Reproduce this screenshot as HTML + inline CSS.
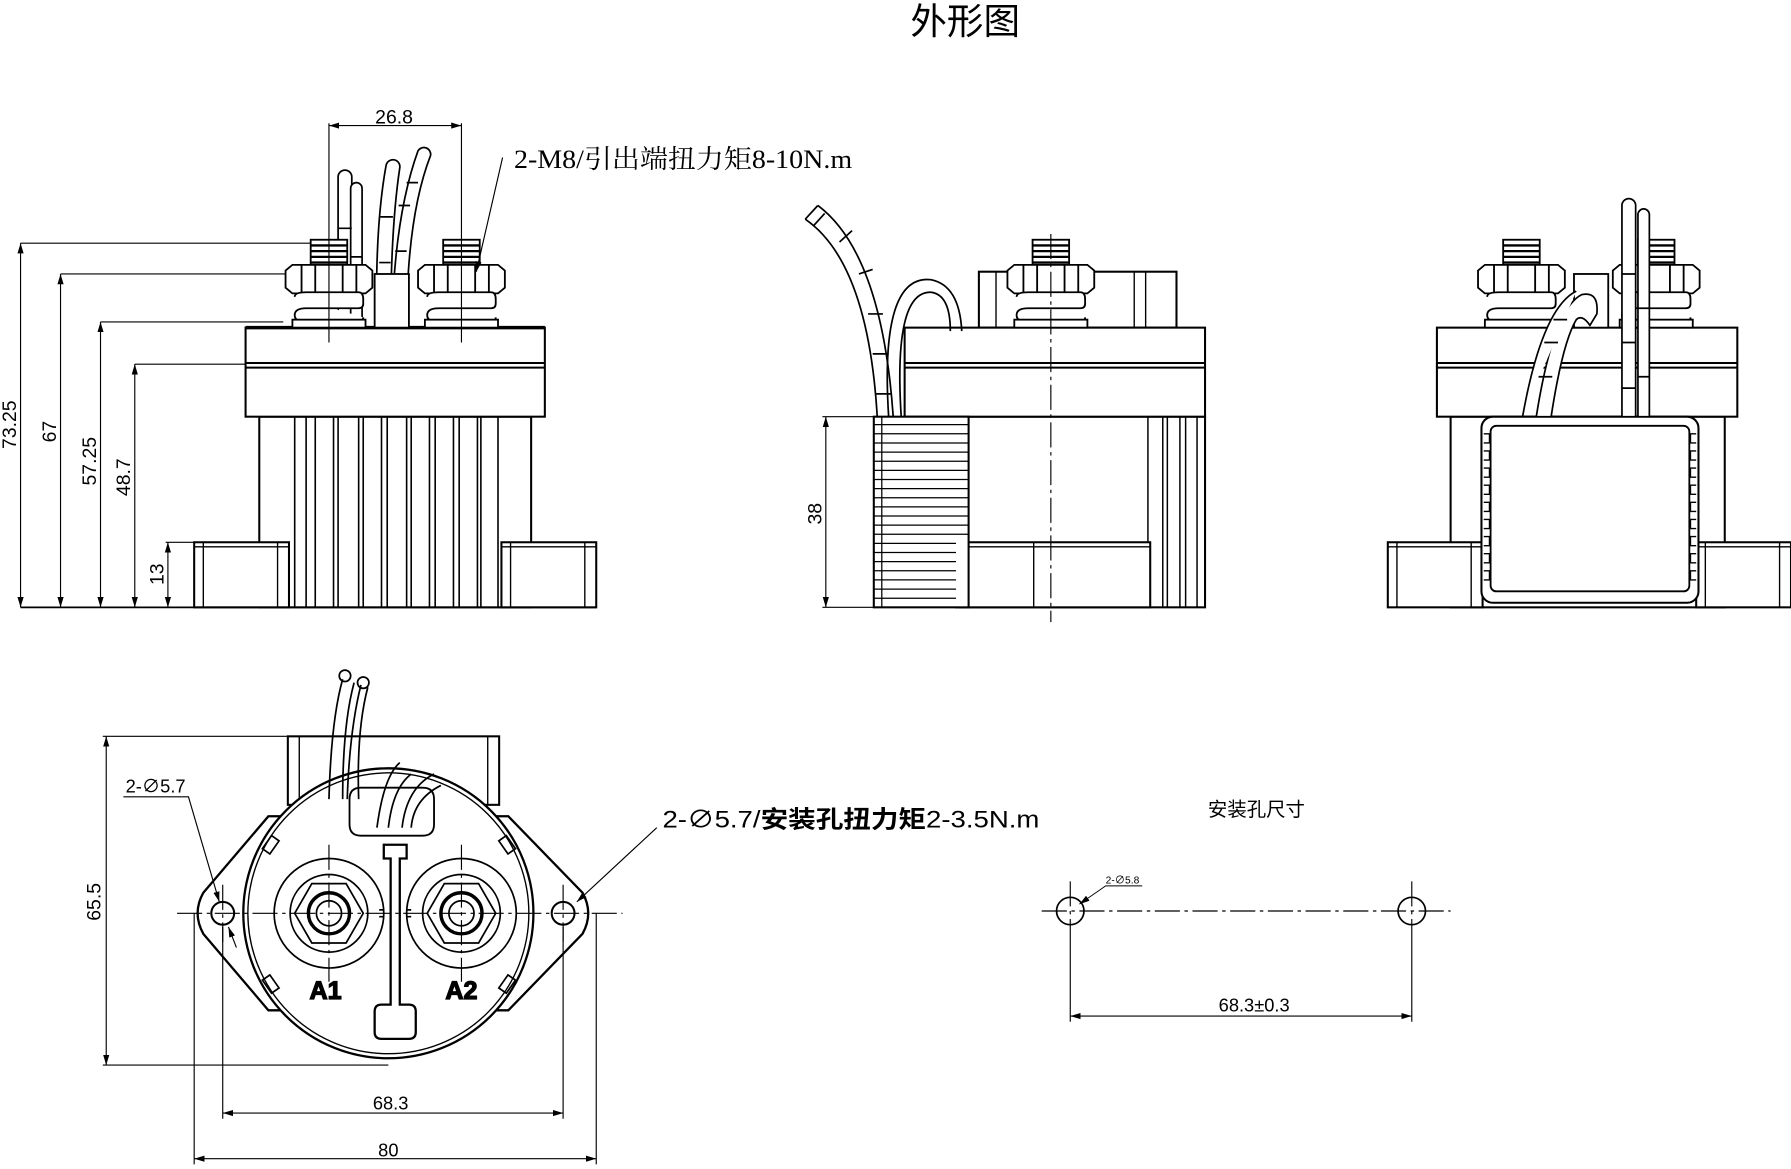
<!DOCTYPE html>
<html><head><meta charset="utf-8"><style>
html,body{margin:0;padding:0;background:#fff;}
svg{display:block;}
text{font-family:"Liberation Sans","Noto Sans CJK SC",sans-serif;fill:#000;}
.s{font-family:"Liberation Serif","Noto Serif CJK SC","Noto Sans CJK SC",serif;}
</style></head><body>
<svg width="1791" height="1169" viewBox="0 0 1568 1024" preserveAspectRatio="none" xmlns="http://www.w3.org/2000/svg">
<defs>
<marker id="a" viewBox="0 0 10 10" refX="10" refY="5" markerWidth="9" markerHeight="9" orient="auto-start-reverse" markerUnits="userSpaceOnUse"><path d="M0,2 L10,5 L0,8 z" fill="#000"/></marker>
<g id="term" fill="#fff" stroke="#000" stroke-width="1.6">
<rect x="-16" y="210" width="32" height="24"/>
<path d="M-16,215 h32 M-16,220 h32 M-16,225 h32 M-16,230 h32" stroke-width="2"/>
<polygon points="-38,237 -32,232 32,232 38,237 38,252 32,257 -32,257 -38,252"/>
<path d="M-24,232 v25 M24,232 v25 M-12,232 v25 M12,232 v25"/>
<path d="M-30,260 q0,-4 10,-4 h46 q4,0 4,6 v4 q0,4 -4,4 h-46 q-10,0 -10,6 q0,6 10,6 h46 q4,0 4,-4" />
<rect x="-32" y="280" width="64" height="7"/>
</g>
<g id="base" fill="#fff" stroke="#000" stroke-width="1.8">
<rect x="0" y="475" width="83" height="57"/><path d="M0,479 h83 M8,475 v57 M73,475 v57" stroke-width="1.2"/>
</g>
</defs>

<text x="845" y="30" font-size="32" text-anchor="middle">外形图</text>

<!-- ===== VIEW 1 FRONT ===== -->
<g fill="none" stroke="#000" stroke-width="1.8">
<rect x="227" y="365" width="238" height="167"/>
<path d="M258,365v167 M268,365v167 M276,365v167 M292,365v167 M296,365v167 M314,365v167 M318,365v167 M334,365v167 M339,365v167 M356,365v167 M360,365v167 M376,365v167 M381,365v167 M397,365v167 M402,365v167 M418,365v167 M421,365v167 M436,365v167" stroke-width="1.4"/>
<rect x="215" y="287" width="262" height="78" fill="#fff"/>
<path d="M215,318h262 M215,322h262"/>
<path d="M215,287h262" stroke-width="3"/>
</g>
<use href="#base" x="170"/><use href="#base" x="439"/>
<path d="M18,532 H522" stroke="#000" stroke-width="1.5"/>
<g fill="#fff" stroke="#000" stroke-width="1.5">
<path d="M296,287 V155 a6,6 0 0 1 12,0 V287"/>
<path d="M307,287 V165 a5,5 0 0 1 10,0 V287"/>
<path d="M330,287 Q328,200 338,145 a6,6 0 0 1 12,2 Q342,200 342,287"/>
<path d="M343,287 Q345,190 366,132 a6,6 0 0 1 11,4 Q356,190 356,287"/>
<path d="M296,200h12 M296,240h12 M307,225h10 M332,230h10 M333,190h11 M346,220h10 M349,180h10 M356,160h10"/>
</g>
<rect x="328" y="240" width="30" height="47" fill="#fff" stroke="#000" stroke-width="1.6"/>
<use href="#term" x="288"/><use href="#term" x="404"/>
<g stroke="#000" stroke-width="1" fill="none">
<path d="M18,213 H272 M53,240 H250 M88,282 H248 M118,319 H215 M145,475 H170"/>
<path d="M18,213 V532" marker-start="url(#a)" marker-end="url(#a)"/>
<path d="M53,240 V532" marker-start="url(#a)" marker-end="url(#a)"/>
<path d="M88,282 V532" marker-start="url(#a)" marker-end="url(#a)"/>
<path d="M118,319 V532" marker-start="url(#a)" marker-end="url(#a)"/>
<path d="M147,475 V532" marker-start="url(#a)" marker-end="url(#a)"/>
<path d="M288,108 V300 M404,108 V300"/>
<path d="M288,110 H404" marker-start="url(#a)" marker-end="url(#a)"/>
<path d="M440,138 L417,238" marker-end="url(#a)"/>
</g>
<text x="345" y="108" font-size="17" text-anchor="middle">26.8</text>
<text class="s" x="450" y="147" font-size="23" textLength="296" lengthAdjust="spacingAndGlyphs">2-M8/引出端扭力矩8-10N.m</text>
<text font-size="17" transform="translate(14,372) rotate(-90)" text-anchor="middle">73.25</text>
<text font-size="17" transform="translate(49,378) rotate(-90)" text-anchor="middle">67</text>
<text font-size="17" transform="translate(84,404) rotate(-90)" text-anchor="middle">57.25</text>
<text font-size="17" transform="translate(114,418) rotate(-90)" text-anchor="middle">48.7</text>
<text font-size="17" transform="translate(143,503) rotate(-90)" text-anchor="middle">13</text>

<!-- ===== VIEW 2 SIDE ===== -->
<g fill="#fff" stroke="#000" stroke-width="1.8">
<rect x="857" y="238" width="173" height="49"/>
<path d="M872,238v49 M993,238v49 M1003,238v49" stroke-width="1.2"/>
<rect x="840" y="365" width="215" height="167"/>
<path d="M1005,365v167 M1018,365v167 M1022,365v167 M1033,365v167 M1038,365v167 M1048,365v167" stroke-width="1.3"/>
<rect x="792" y="287" width="263" height="78"/>
<path d="M792,318h263 M792,322h263"/>
<rect x="837" y="475" width="170" height="57"/>
<path d="M837,479h170 M905,475v57" stroke-width="1.2"/>
<rect x="765" y="365" width="83" height="167"/>
</g>
<g stroke="#000" stroke-width="1.1">
<path d="M772,365v167 M765,372h83 M765,380h83 M765,388h83 M765,396h83 M765,404h83 M765,412h83 M765,420h83 M765,428h83 M765,436h83 M765,444h83 M765,452h83 M765,460h83 M765,468h83 M765,476h72 M765,484h72 M765,492h72 M765,500h72 M765,508h72 M765,516h72 M765,524h72"/>
</g>
<g fill="none" stroke="#000" stroke-width="1.5">
<path d="M705,192 Q760,230 768,365 M716,180 Q772,222 782,365"/>
<path d="M705,192 l11,-12 M712,198l10,-11 M735,212 l11,-10 M752,240l12,-4 M760,275h13 M764,310h14 M766,345h14"/>
<path d="M778,365 Q770,240 815,245 Q840,250 842,290 M789,365 Q782,255 815,256 Q832,258 832,290"/>
</g>
<use href="#term" x="920"/>
<path d="M920,205 V545" stroke="#000" stroke-width="1" stroke-dasharray="22,4,3,4"/>
<g stroke="#000" stroke-width="1" fill="none">
<path d="M720,365 H765 M720,532 H765"/>
<path d="M723,365 V532" marker-start="url(#a)" marker-end="url(#a)"/>
</g>
<text font-size="17" transform="translate(719,450) rotate(-90)" text-anchor="middle">38</text>

<!-- ===== VIEW 3 BACK ===== -->
<g fill="#fff" stroke="#000" stroke-width="1.8">
<rect x="1270" y="365" width="240" height="167"/>
<rect x="1258" y="287" width="263" height="78"/>
<path d="M1258,318h263 M1258,322h263"/>
</g>
<use href="#base" x="1215"/><use href="#base" x="1485"/>
<rect x="1297" y="365" width="190" height="163" rx="10" fill="#fff" stroke="#000" stroke-width="1.8"/>
<rect x="1305" y="373" width="174" height="145" rx="5" fill="none" stroke="#000" stroke-width="1.6"/>
<path d="M1299,380h5v8h-5 M1299,395h5v8h-5 M1299,410h5v8h-5 M1299,425h5v8h-5 M1299,440h5v8h-5 M1299,455h5v8h-5 M1299,470h5v8h-5 M1299,485h5v8h-5 M1299,500h5v8h-5 M1485,380h-5v8h5 M1485,395h-5v8h5 M1485,410h-5v8h5 M1485,425h-5v8h5 M1485,440h-5v8h5 M1485,455h-5v8h5 M1485,470h-5v8h5 M1485,485h-5v8h5 M1485,500h-5v8h5" fill="none" stroke="#000" stroke-width="1.2"/>
<use href="#term" x="1332"/><use href="#term" x="1450"/>
<rect x="1378" y="240" width="30" height="47" fill="#fff" stroke="#000" stroke-width="1.6"/>
<g fill="#fff" stroke="#000" stroke-width="1.5">
<path d="M1345,365 Q1360,270 1385,258 Q1400,255 1398,275 L1392,285 Q1385,275 1380,280 Q1368,300 1358,365 Z"/>
<path d="M1333,365 Q1350,270 1380,255"/>
<path d="M1420,365 V180 a6,6 0 0 1 12,0 V365 Z"/>
<path d="M1434,365 V188 a5,5 0 0 1 10,0 V365 Z"/>
<path d="M1420,240h12 M1420,300h12 M1420,340h12 M1434,270h10 M1434,330h10 M1347,330h12 M1352,300h12 M1360,280h12"/>
</g>

<!-- ===== BOTTOM VIEW ===== -->
<g fill="#fff" stroke="#000" stroke-width="1.8">
<rect x="252" y="645" width="185" height="60"/>
<path d="M262,645v60 M427,645v60" stroke-width="1.2"/>
<path d="M235,715 L178,782 Q168,800 178,818 L235,885 L445,885 L510,818 Q520,800 510,782 L445,715 Z" stroke-width="2"/>
<circle cx="340" cy="800" r="127" stroke-width="2"/>
<circle cx="340" cy="800" r="123" fill="none" stroke-width="1.2"/>
<circle cx="195" cy="800" r="10"/><circle cx="493" cy="800" r="10"/>
</g>
<g fill="none" stroke="#000" stroke-width="1.5">
<rect x="233" y="733" width="8" height="14" transform="rotate(35 237 740)"/>
<rect x="440" y="733" width="8" height="14" transform="rotate(-35 444 740)"/>
<rect x="233" y="855" width="8" height="14" transform="rotate(-35 237 862)"/>
<rect x="440" y="855" width="8" height="14" transform="rotate(35 444 862)"/>
<circle cx="288" cy="800" r="48"/><circle cx="404" cy="800" r="48"/>
<polygon points="258,800 273,774 303,774 318,800 303,826 273,826"/>
<polygon points="374,800 389,774 419,774 434,800 419,826 389,826"/>
<circle cx="288" cy="800" r="34"/><circle cx="404" cy="800" r="34"/>
<circle cx="288" cy="800" r="18" stroke-width="3"/><circle cx="404" cy="800" r="18" stroke-width="3"/>
<circle cx="288" cy="800" r="11"/><circle cx="404" cy="800" r="11"/>
<path d="M316,690 h54 q10,0 10,10 v22 q0,10 -10,10 h-54 q-10,0 -10,-10 v-22 q0,-10 10,-10 z" stroke-width="1.6"/>
<path d="M336,740 h20 v12 h-6 v128 h8 q6,0 6,6 v18 q0,6 -6,6 h-24 q-6,0 -6,-6 v-18 q0,-6 6,-6 h8 v-128 h-6 z" stroke-width="2"/>
<path d="M336,797h-4 M356,797h4 M336,803h-4 M356,803h4"/>
<path d="M330,725 Q336,680 350,668 M340,725 Q344,690 360,678 M352,725 Q356,690 380,678 M360,725 Q362,700 386,688"/>
<path d="M288,700 Q290,630 300,595 M300,700 Q300,635 310,598 M304,700 Q306,640 316,600 M314,700 Q312,640 322,602"/>
<circle cx="302" cy="592" r="5"/><circle cx="318" cy="598" r="5"/>
</g>
<text x="285" y="875" font-size="22" font-weight="bold" text-anchor="middle" fill="#fff" stroke="#000" stroke-width="1.1">A1</text>
<text x="404" y="875" font-size="22" font-weight="bold" text-anchor="middle" fill="#fff" stroke="#000" stroke-width="1.1">A2</text>
<g stroke="#000" stroke-width="1" fill="none" stroke-dasharray="22,4,3,4">
<path d="M155,800 H545 M288,740 V860 M404,740 V860 M195,775 V825 M493,775 V825"/>
</g>
<g stroke="#000" stroke-width="1" fill="none">
<path d="M90,645 H252 M90,933 H340"/>
<path d="M93,645 V933" marker-start="url(#a)" marker-end="url(#a)"/>
<path d="M195,812 V980 M493,812 V980 M170,800 V1020 M522,800 V1020"/>
<path d="M195,975 H493" marker-start="url(#a)" marker-end="url(#a)"/>
<path d="M170,1015 H522" marker-start="url(#a)" marker-end="url(#a)"/>
<path d="M108,698 H165 L192,790" marker-end="url(#a)"/>
<path d="M207,830 L200,812" marker-end="url(#a)"/>
<path d="M575,725 L505,790" marker-end="url(#a)"/>
</g>
<text x="110" y="694" font-size="16">2-∅5.7</text>
<text font-size="17" transform="translate(88,790) rotate(-90)" text-anchor="middle">65.5</text>
<text x="342" y="972" font-size="16" text-anchor="middle">68.3</text>
<text x="340" y="1013" font-size="16" text-anchor="middle">80</text>
<text x="580" y="725" font-size="21" textLength="330" lengthAdjust="spacingAndGlyphs">2-∅5.7/<tspan font-weight="bold">安装孔扭力矩</tspan>2-3.5N.m</text>

<!-- ===== MOUNTING HOLES ===== -->
<text x="1100" y="715" font-size="17" text-anchor="middle">安装孔尺寸</text>
<g stroke="#000" fill="none">
<circle cx="937" cy="798" r="12" stroke-width="1.5"/>
<circle cx="1236" cy="798" r="12" stroke-width="1.5"/>
<path d="M912,798 H1270 M937,772 V812 M1236,772 V812" stroke-width="1" stroke-dasharray="22,4,3,4"/>
<path d="M937,812 V895 M1236,812 V895" stroke-width="1"/>
<path d="M937,890 H1236" stroke-width="1" marker-start="url(#a)" marker-end="url(#a)"/>
<path d="M1000,776 H968 L945,792" stroke-width="0.8" marker-end="url(#a)"/>
</g>
<text x="968" y="774" font-size="9">2-∅5.8</text>
<text x="1098" y="886" font-size="16" text-anchor="middle">68.3±0.3</text>
</svg>
</body></html>
